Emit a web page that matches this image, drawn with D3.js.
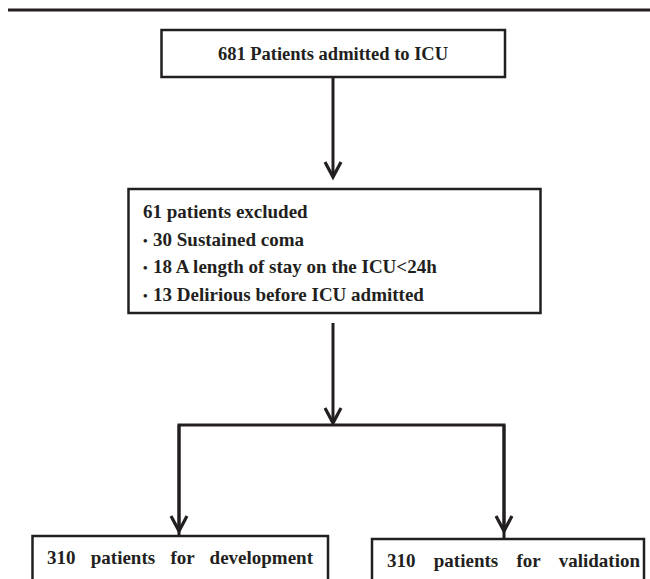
<!DOCTYPE html>
<html>
<head>
<meta charset="utf-8">
<script src="https://cdn.jsdelivr.net/npm/d3@7"></script>
<style>
  html, body { margin: 0; padding: 0; background: #fff; }
  svg { display: block; }
</style>
</head>
<body>
<div id="chart"></div>
<script>
// flow chart content
const admittedLabel = '681 Patients admitted to ICU';
const excludedHeader = '61 patients excluded';
const excludedReasons = [
  '30 Sustained coma',
  '18 A length of stay on the ICU<24h',
  '13 Delirious before ICU admitted',
];
const cohortLabels = ['310 patients for development', '310 patients for validation'];

const width = 650;
const height = 579;
const ink = '#231f20';
const font = '"Liberation Serif", "Times New Roman", serif';

const svg = d3
  .select('#chart')
  .append('svg')
  .attr('width', width)
  .attr('height', height)
  .attr('viewBox', `0 0 ${width} ${height}`);

// rule at the very top
svg.append('line')
  .attr('x1', 8).attr('x2', width)
  .attr('y1', 10).attr('y2', 10)
  .attr('stroke', ink).attr('stroke-width', 3);

const box = (x, y, w, h) =>
  svg.append('rect')
    .attr('x', x).attr('y', y)
    .attr('width', w).attr('height', h)
    .attr('fill', '#fff')
    .attr('stroke', ink)
    .attr('stroke-width', 2.5);

const line = (pts) =>
  svg.append('path')
    .attr('d', d3.line()(pts))
    .attr('fill', 'none')
    .attr('stroke', ink)
    .attr('stroke-width', 3);

// open chevron arrow ending at (x, y)
const arrow = (x, y1, y2) => {
  line([[x, y1], [x, y2 - 1]]);
  svg.append('path')
    .attr('d', d3.line()([[x - 8, y2 - 15], [x, y2], [x + 8, y2 - 15]]))
    .attr('fill', 'none')
    .attr('stroke', ink)
    .attr('stroke-width', 3.2)
    .attr('stroke-linejoin', 'miter');
};

const label = (x, y, t, anchor = 'start', size = 19) =>
  svg.append('text')
    .attr('x', x).attr('y', y)
    .attr('text-anchor', anchor)
    .attr('font-family', font)
    .attr('font-weight', 'bold')
    .attr('font-size', size)
    .attr('fill', ink)
    .text(t);

// top box
box(161.5, 30, 343.5, 47);
label(333, 60, admittedLabel, 'middle', 18.5);
arrow(333, 77, 177);

// exclusion box
box(128.5, 189, 412, 124);
const rowY = d3.scalePoint()
  .domain([excludedHeader, ...excludedReasons])
  .range([218, 300.5]);
label(143, rowY(excludedHeader), excludedHeader);
excludedReasons.forEach((r) => {
  svg.append('text')
    .attr('x', 143).attr('y', rowY(r) - 1)
    .attr('font-family', font)
    .attr('font-size', 13)
    .attr('font-weight', 'bold')
    .attr('fill', ink)
    .text('\u2022');
  label(153, rowY(r), r);
});

// split into the two cohorts
arrow(333, 323, 423);
line([[179, 540], [179, 425], [504, 425], [504, 540]]);
const branchX = d3.scaleOrdinal().domain(cohortLabels).range([179, 504]);
cohortLabels.forEach((c) => arrow(branchX(c), 425, 531));

// cohort boxes, cut off by the bottom of the picture
const cohortBox = d3.scaleOrdinal().domain(cohortLabels).range([
  { x: 32.5, y: 536, w: 295.5, tx: [47, 313], ty: 564 },
  { x: 372, y: 539, w: 272, tx: [387, 640], ty: 567 },
]);
cohortLabels.forEach((c) => {
  const b = cohortBox(c);
  box(b.x, b.y, b.w, 80);
  const t = label(b.tx[0], b.ty, c);
  // justified text: stretch the gaps between words
  const natural = t.node().getComputedTextLength();
  const gaps = c.split(' ').length - 1;
  t.attr('word-spacing', (b.tx[1] - b.tx[0] - natural) / gaps);
});
</script>
</body>
</html>
